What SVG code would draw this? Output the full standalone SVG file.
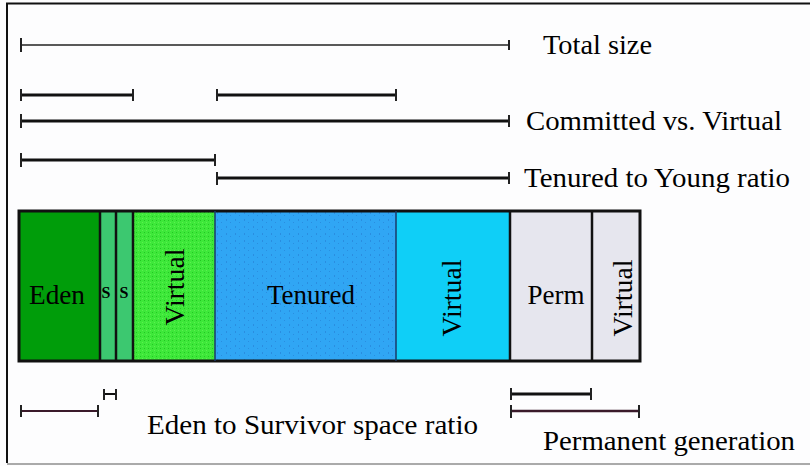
<svg xmlns="http://www.w3.org/2000/svg" width="810" height="466" viewBox="0 0 810 466">
  <style>
    .lbl { font-family: "Liberation Serif", "Times New Roman", serif; font-size: 27px; fill: #000; }
    .in { font-family: "Liberation Serif", "Times New Roman", serif; font-size: 27px; fill: #000; }
    .ss { font-family: "Liberation Serif", "Times New Roman", serif; font-size: 16px; font-weight: bold; fill: #000; }
    .thin { stroke: #222; stroke-width: 1.6; fill: none; }
    .thick { stroke: #111; stroke-width: 3; fill: none; }
    .tick { stroke: #222; stroke-width: 2; }
    .seg { stroke: #111; stroke-width: 2.5; }
  </style>
  <defs>
    <pattern id="dotsGreen" width="4" height="4" patternUnits="userSpaceOnUse">
      <rect width="4" height="4" fill="#3ee83a"/>
      <rect x="0" y="0" width="1" height="1" fill="#22c822"/>
      <rect x="2" y="2" width="1" height="1" fill="#5cf050"/>
    </pattern>
    <pattern id="dotsBlue" width="9" height="7" patternUnits="userSpaceOnUse">
      <rect width="9" height="7" fill="#30a6f4"/>
      <rect x="1" y="2" width="1" height="2" fill="#2a8ee0"/>
      <rect x="5" y="5" width="1" height="1" fill="#2a8ee0"/>
    </pattern>
  </defs>

  <rect width="810" height="466" fill="#fdfdfe"/>
  <!-- frame -->
  <line x1="6" y1="3.5" x2="810" y2="3.5" stroke="#111" stroke-width="2"/>
  <line x1="7" y1="3" x2="7" y2="463" stroke="#111" stroke-width="2"/>
  <line x1="7" y1="464" x2="810" y2="464" stroke="#aaa" stroke-width="2"/>

  <!-- heap segments -->
  <g id="eden">
    <rect x="19" y="211" width="81" height="150" fill="#009d0a"/>
    <text class="in" x="57" y="304" text-anchor="middle" textLength="56" lengthAdjust="spacingAndGlyphs">Eden</text>
  </g>
  <g id="survivor1">
    <rect x="100" y="211" width="16" height="150" fill="#3cc870"/>
    <text class="ss" x="106" y="298" text-anchor="middle">S</text>
  </g>
  <g id="survivor2">
    <rect x="116" y="211" width="17" height="150" fill="#3cc870"/>
    <text class="ss" x="124" y="298" text-anchor="middle">S</text>
  </g>
  <g id="young-virtual">
    <rect x="133" y="211" width="82" height="150" fill="url(#dotsGreen)"/>
    <text class="in" transform="translate(184,287) rotate(-90)" text-anchor="middle" textLength="77" lengthAdjust="spacingAndGlyphs">Virtual</text>
  </g>
  <g id="tenured">
    <rect x="215" y="211" width="181" height="150" fill="url(#dotsBlue)"/>
    <text class="in" x="311" y="304" text-anchor="middle" textLength="88" lengthAdjust="spacingAndGlyphs">Tenured</text>
  </g>
  <g id="tenured-virtual">
    <rect x="396" y="211" width="114" height="150" fill="#0fcff7"/>
    <text class="in" transform="translate(461,298) rotate(-90)" text-anchor="middle" textLength="77" lengthAdjust="spacingAndGlyphs">Virtual</text>
  </g>
  <g id="perm">
    <rect x="510" y="211" width="82" height="150" fill="#e6e6ee"/>
    <text class="in" x="556" y="304" text-anchor="middle" textLength="57" lengthAdjust="spacingAndGlyphs">Perm</text>
  </g>
  <g id="perm-virtual">
    <rect x="592" y="211" width="48" height="150" fill="#e6e6ee"/>
    <text class="in" transform="translate(632,298) rotate(-90)" text-anchor="middle" textLength="77" lengthAdjust="spacingAndGlyphs">Virtual</text>
  </g>
  <!-- segment borders -->
  <g id="borders">
    <rect x="19" y="211" width="621" height="150" fill="none" stroke="#111" stroke-width="3"/>
    <line class="seg" x1="100" y1="211" x2="100" y2="361"/>
    <line class="seg" x1="116" y1="211" x2="116" y2="361"/>
    <line class="seg" x1="133" y1="211" x2="133" y2="361"/>
    <line x1="215" y1="211" x2="215" y2="361" stroke="#1a3a6a" stroke-width="1.5"/>
    <line x1="396" y1="211" x2="396" y2="361" stroke="#1a3a6a" stroke-width="1.5"/>
    <line class="seg" x1="510" y1="211" x2="510" y2="361"/>
    <line class="seg" x1="592" y1="211" x2="592" y2="361"/>
  </g>

  <!-- dimension bars -->
  <g id="connectors">
    <!-- total size -->
    <line class="thin" x1="21" y1="45" x2="509" y2="45"/>
    <line class="tick" x1="21" y1="38" x2="21" y2="52"/>
    <line class="tick" x1="509" y1="40" x2="509" y2="50"/>
    <!-- committed -->
    <line class="thick" x1="21" y1="95" x2="133" y2="95"/>
    <line class="tick" x1="21" y1="89" x2="21" y2="101"/>
    <line class="tick" x1="133" y1="89" x2="133" y2="101"/>
    <line class="thick" x1="217" y1="95" x2="396" y2="95"/>
    <line class="tick" x1="217" y1="89" x2="217" y2="101"/>
    <line class="tick" x1="396" y1="89" x2="396" y2="101"/>
    <!-- committed + virtual -->
    <line class="thick" x1="21" y1="121" x2="509" y2="121"/>
    <line class="tick" x1="21" y1="114" x2="21" y2="128"/>
    <line class="tick" x1="509" y1="115" x2="509" y2="127"/>
    <!-- young -->
    <line class="thick" x1="21" y1="160" x2="215" y2="160"/>
    <line class="tick" x1="21" y1="153" x2="21" y2="167"/>
    <line class="tick" x1="215" y1="154" x2="215" y2="166"/>
    <!-- tenured -->
    <line class="thick" x1="217" y1="178" x2="509" y2="178"/>
    <line class="tick" x1="217" y1="172" x2="217" y2="185"/>
    <line class="tick" x1="509" y1="172" x2="509" y2="184"/>
    <!-- eden -->
    <line x1="21" y1="411" x2="98" y2="411" stroke="#3a1a2a" stroke-width="2.2"/>
    <line class="tick" x1="21" y1="405" x2="21" y2="417"/>
    <line class="tick" x1="98" y1="405" x2="98" y2="417"/>
    <!-- survivor -->
    <line x1="104" y1="394" x2="116" y2="394" stroke="#111" stroke-width="2"/>
    <line class="tick" x1="104" y1="389" x2="104" y2="400"/>
    <line class="tick" x1="116" y1="389" x2="116" y2="400"/>
    <!-- perm -->
    <line class="thick" x1="511" y1="394" x2="591" y2="394"/>
    <line class="tick" x1="511" y1="388" x2="511" y2="400"/>
    <line class="tick" x1="591" y1="388" x2="591" y2="400"/>
    <line x1="511" y1="411" x2="639" y2="411" stroke="#3a1a2a" stroke-width="2.5"/>
    <line class="tick" x1="511" y1="405" x2="511" y2="418"/>
    <line class="tick" x1="639" y1="405" x2="639" y2="418"/>
  </g>

  <!-- labels -->
  <g id="labels">
    <text class="lbl" x="543" y="54" textLength="109" lengthAdjust="spacingAndGlyphs">Total size</text>
    <text class="lbl" x="526" y="130" textLength="256" lengthAdjust="spacingAndGlyphs">Committed vs. Virtual</text>
    <text class="lbl" x="524" y="187" textLength="266" lengthAdjust="spacingAndGlyphs">Tenured to Young ratio</text>
    <text class="lbl" x="147" y="434" textLength="331" lengthAdjust="spacingAndGlyphs">Eden to Survivor space ratio</text>
    <text class="lbl" x="543" y="450" textLength="252" lengthAdjust="spacingAndGlyphs">Permanent generation</text>
  </g>
</svg>
